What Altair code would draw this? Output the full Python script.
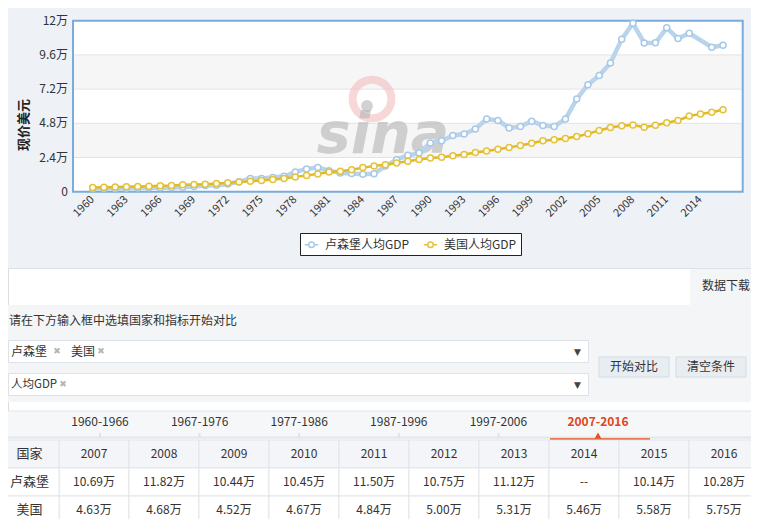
import altair as alt
import pandas as pd

FONT = "Noto Sans CJK SC"
LUX_NAME = "卢森堡人均GDP"
USA_NAME = "美国人均GDP"

# ---------------- data (values in 万美元) ----------------
years = list(range(1960, 2017))
lux = [0.22, 0.23, 0.23, 0.24, 0.26, 0.28, 0.28, 0.29, 0.31, 0.36,
       0.43, 0.45, 0.54, 0.70, 0.92, 0.92, 1.00, 1.08, 1.38, 1.60,
       1.70, 1.47, 1.32, 1.27, 1.22, 1.26, 1.80, 2.25, 2.55, 2.71,
       3.42, 3.58, 3.95, 4.05, 4.40, 5.10, 5.00, 4.47, 4.58, 4.95,
       4.65, 4.58, 5.10, 6.50, 7.51, 8.16, 9.03, 10.69, 11.82, 10.44,
       10.45, 11.50, 10.75, 11.12, None, 10.14, 10.28]
usa = [0.30, 0.31, 0.33, 0.34, 0.36, 0.39, 0.42, 0.44, 0.48, 0.51,
       0.53, 0.57, 0.62, 0.68, 0.73, 0.78, 0.85, 0.93, 1.04, 1.14,
       1.25, 1.38, 1.43, 1.54, 1.69, 1.80, 1.90, 2.01, 2.14, 2.26,
       2.36, 2.41, 2.52, 2.61, 2.75, 2.85, 2.98, 3.11, 3.24, 3.40,
       3.58, 3.65, 3.73, 3.88, 4.06, 4.30, 4.51, 4.63, 4.68, 4.52,
       4.67, 4.84, 5.00, 5.31, 5.46, 5.58, 5.75]

x_ticks = list(range(1960, 2015, 3))
y_ticks = [0, 2.4, 4.8, 7.2, 9.6, 12]
band_lo = [2.4, 7.2]
band_hi = [4.8, 9.6]

periods = ["1960-1966", "1967-1976", "1977-1986", "1987-1996", "1997-2006", "2007-2016"]
active_period = "2007-2016"
table_years = [str(y) for y in years[-10:]]
table_rows = ["国家", "卢森堡", "美国"]

# ---------------- frames ----------------
series_df = pd.DataFrame({
    "year": years + years,
    "value": lux + usa,
    "series": [LUX_NAME] * len(years) + [USA_NAME] * len(years),
})

cells = []
for i, yr in enumerate(table_years):
    lv = lux[-10:][i]
    uv = usa[-10:][i]
    cells.append({"col": yr, "row": "国家", "text": yr})
    cells.append({"col": yr, "row": "卢森堡", "text": "--" if lv is None else f"{lv:.2f}万"})
    cells.append({"col": yr, "row": "美国", "text": f"{uv:.2f}万"})
cells_df = pd.DataFrame(cells)
rows_df = pd.DataFrame({"row": table_rows})
period_df = pd.DataFrame({"p": periods})
xt_df = pd.DataFrame({"t": x_ticks})
yt_df = pd.DataFrame({"v": y_ticks})
one = pd.DataFrame({"k": [0]})

# ---------------- scales ----------------
XMIN, XMAX = 1958.25, 2017.75
xs = alt.Scale(domain=[XMIN, XMAX], range=[65, 734.7], nice=False, zero=False)
ys = alt.Scale(domain=[0, 12], range=[183.7, 12.7], nice=False, zero=False)
col_scale = alt.Scale(domain=table_years, range=[51, 751], paddingInner=0, paddingOuter=0)
row_scale = alt.Scale(domain=table_rows, range=[432, 516], paddingInner=0, paddingOuter=0)
per_scale = alt.Scale(type="point", domain=periods, range=[92, 590], padding=0)


def px_rect(x1, y1, x2, y2, **mk):
    return alt.Chart(one).mark_rect(**mk).encode(
        x=alt.value(x1 - 8), x2=alt.value(x2 - 8),
        y=alt.value(y1 - 8), y2=alt.value(y2 - 8))


def px_rule(x1, y1, x2, y2, **mk):
    return alt.Chart(one).mark_rule(**mk).encode(
        x=alt.value(x1 - 8), x2=alt.value(x2 - 8),
        y=alt.value(y1 - 8), y2=alt.value(y2 - 8))


def px_text(x, y, s, **mk):
    props = dict(font=FONT, fontSize=12, color="#333333", align="left", baseline="middle")
    props.update(mk)
    return alt.Chart(one).mark_text(text=s, **props).encode(
        x=alt.value(x - 8), y=alt.value(y - 8))


def plot_x():
    return alt.X(datum=XMIN, type="quantitative", scale=xs, axis=None)


# ---------------- chart area ----------------
bg_top = px_rect(0, 0, 770, 268, fill="#eef2f7")
bg_line = px_rule(0, 268.5, 770, 268.5, stroke="#dce2e9", strokeWidth=1)

plot_bg = alt.Chart(one).mark_rect(fill="white").encode(
    x=plot_x(), x2=alt.X2(datum=XMAX),
    y=alt.Y(datum=0, type="quantitative", scale=ys, axis=None), y2=alt.Y2(datum=12))

bands = alt.Chart(pd.DataFrame({"lo": band_lo, "hi": band_hi})).mark_rect(fill="#f6f6f6").encode(
    x=plot_x(), x2=alt.X2(datum=XMAX),
    y=alt.Y("lo:Q", scale=ys, axis=None), y2="hi:Q")

grid = alt.Chart(pd.DataFrame({"g": y_ticks[1:-1]})).mark_rule(stroke="#e3e3e3", strokeWidth=1).encode(
    x=plot_x(), x2=alt.X2(datum=XMAX),
    y=alt.Y("g:Q", scale=ys, axis=None))

frame = alt.Chart(one).mark_rect(fillOpacity=0, stroke="#79acdc", strokeWidth=2).encode(
    x=plot_x(), x2=alt.X2(datum=XMAX),
    y=alt.Y(datum=0, type="quantitative", scale=ys, axis=None), y2=alt.Y2(datum=12))

# axis labels drawn through the same scales
y_labels = alt.Chart(yt_df).transform_calculate(
    lab="datum.v == 0 ? '0' : format(datum.v, '.2~f') + '万'"
).mark_text(font=FONT, fontSize=12, color="#333333", align="right", baseline="middle").encode(
    x=alt.value(60), y=alt.Y("v:Q", scale=ys, axis=None), text="lab:N")
x_labels = alt.Chart(xt_df).mark_text(font=FONT, fontSize=11, color="#333333", align="right",
                                      baseline="middle", angle=315).encode(
    x=alt.X("t:Q", scale=xs, axis=None), y=alt.value(190), text="t:N")
y_title = px_text(24, 125, "现价美元", fontSize=13, fontWeight="bold", color="#222222",
                  align="center", angle=270)

# watermark
wm_ring = alt.Chart(one).mark_point(shape="circle", filled=False, stroke="#f2b8b8",
                                    strokeWidth=8, size=1500, opacity=0.55).encode(
    x=alt.value(372 - 8), y=alt.value(99 - 8))
wm_dot = alt.Chart(one).mark_point(shape="circle", filled=True, color="#9a9a9a",
                                   size=140, opacity=0.45).encode(
    x=alt.value(367 - 8), y=alt.value(106 - 8))
wm_text = px_text(383, 153, "sina", font="DejaVu Sans", fontSize=57, fontWeight="bold",
                  fontStyle="italic", color="#b5b5b5", align="center", baseline="alphabetic",
                  opacity=0.6)

legend = alt.Legend(title=None, orient="none", legendX=292, legendY=225, direction="horizontal",
                    fillColor="white", strokeColor="#222222", padding=4,
                    labelFont=FONT, labelFontSize=12, labelColor="#333333",
                    symbolType="M -1 0 L -0.42 0 M 0.42 0 L 1 0 M -0.42 0 A 0.42 0.42 0 1 1 0.42 0 A 0.42 0.42 0 1 1 -0.42 0 Z",
                    symbolSize=180, symbolStrokeWidth=1.5, symbolFillColor="white",
                    columnPadding=10, labelOffset=6)
color = alt.Color("series:N", scale=alt.Scale(domain=[LUX_NAME, USA_NAME],
                                               range=["#a6c9e8", "#e5c23c"]), legend=legend)

lux_line = alt.Chart(series_df).transform_filter(
    f"datum.series === '{LUX_NAME}' && isValid(datum.value)"
).mark_line(color="#b9d4eb", strokeWidth=4.5, strokeJoin="round").encode(
    x=alt.X("year:Q", scale=xs, axis=None), y=alt.Y("value:Q", scale=ys, axis=None))

lux_pts = alt.Chart(series_df).transform_filter(
    f"datum.series === '{LUX_NAME}' && isValid(datum.value)"
).mark_point(shape="circle", filled=False, fill="white", size=36, strokeWidth=1.5, opacity=1).encode(
    x=alt.X("year:Q", scale=xs, axis=None), y=alt.Y("value:Q", scale=ys, axis=None), color=color)

usa_line = alt.Chart(series_df).transform_filter(
    f"datum.series === '{USA_NAME}'"
).mark_line(color="#e2b91e", strokeWidth=2.5).encode(
    x=alt.X("year:Q", scale=xs, axis=None), y=alt.Y("value:Q", scale=ys, axis=None))

usa_pts = alt.Chart(series_df).transform_filter(
    f"datum.series === '{USA_NAME}'"
).mark_point(shape="circle", filled=False, fill="#fffef6", size=36, strokeWidth=1.5, opacity=1).encode(
    x=alt.X("year:Q", scale=xs, axis=None), y=alt.Y("value:Q", scale=ys, axis=None), color=color)

# ---------------- controls ----------------
tab_dl = px_rect(690, 269, 770, 305, fill="#f3f5f7")
dl_text = px_text(750, 285.5, "数据下载", align="right")
bg_mid = px_rect(0, 305, 770, 402, fill="#f3f5f7")
hint = px_text(9, 320.5, "请在下方输入框中选填国家和指标开始对比")
box1 = px_rect(8.5, 340.5, 588.5, 362.5, fill="white", stroke="#dde2e8", strokeWidth=1)
box2 = px_rect(8.5, 373.5, 588.5, 395.5, fill="white", stroke="#dde2e8", strokeWidth=1)
t_lux = px_text(11, 351.5, "卢森堡")
x_lux = px_text(57, 351, "✖", font="DejaVu Sans", fontSize=9, color="#b5b5b5", align="center")
t_usa = px_text(71, 351.5, "美国")
x_usa = px_text(101, 351, "✖", font="DejaVu Sans", fontSize=9, color="#b5b5b5", align="center")
t_gdp = px_text(11, 384.5, "人均GDP", fontSize=11.5)
x_gdp = px_text(63, 384, "✖", font="DejaVu Sans", fontSize=9, color="#b5b5b5", align="center")
dd1 = px_text(577.5, 351.5, "▼", font="DejaVu Sans", fontSize=9, color="#444444", align="center")
dd2 = px_text(577.5, 384.5, "▼", font="DejaVu Sans", fontSize=9, color="#444444", align="center")
btn1 = px_rect(599, 357, 669, 377, fill="#e8edf2", stroke="#d3dbe3", strokeWidth=1)
btn2 = px_rect(676, 357, 746, 377, fill="#e8edf2", stroke="#d3dbe3", strokeWidth=1)
btn1_t = px_text(634, 367, "开始对比", align="center")
btn2_t = px_text(711, 367, "清空条件", align="center")

# ---------------- period tabs ----------------
tab_bg = px_rect(0, 411, 770, 440, fill="#f5f7f9")
tab_top = px_rule(0, 411, 770, 411, stroke="#e2e6ea", strokeWidth=1)
tab_rail = px_rule(0, 437.5, 770, 437.5, stroke="#e3e7eb", strokeWidth=2)
tab_ticks = alt.Chart(period_df).transform_filter(f"datum.p !== '{active_period}'").mark_rule(
    stroke="#dfe3e8", strokeWidth=2).encode(
    x=alt.X("p:N", scale=per_scale, axis=None), y=alt.value(433 - 8), y2=alt.value(438 - 8))
tab_text = alt.Chart(period_df).transform_filter(f"datum.p !== '{active_period}'").mark_text(
    font=FONT, fontSize=12, color="#333333", baseline="middle").encode(
    x=alt.X("p:N", scale=per_scale, axis=None), y=alt.value(422 - 8), text="p:N")
tab_active = alt.Chart(period_df).transform_filter(f"datum.p === '{active_period}'").mark_text(
    font=FONT, fontSize=12, color="#e0451b", fontWeight="bold", baseline="middle").encode(
    x=alt.X("p:N", scale=per_scale, axis=None), y=alt.value(422 - 8), text="p:N")
tab_under = px_rule(550, 439.5, 650, 439.5, stroke="#e8501c", strokeWidth=2.5)
tab_tri = alt.Chart(period_df).transform_filter(f"datum.p === '{active_period}'").mark_point(
    shape="triangle-up", filled=True, color="#e8501c", size=45, opacity=1).encode(
    x=alt.X("p:N", scale=per_scale, axis=None), y=alt.value(435.5 - 8))

# ---------------- table ----------------
cell_rects = alt.Chart(cells_df).mark_rect(stroke="#e1e5ea", strokeWidth=1).encode(
    x=alt.X("col:N", scale=col_scale, axis=None),
    y=alt.Y("row:N", scale=row_scale, axis=None),
    fill=alt.condition("datum.row === '国家'", alt.value("#f3f5f8"), alt.value("white")))
cell_text = alt.Chart(cells_df).mark_text(font=FONT, fontSize=12, color="#333333",
                                          baseline="middle").encode(
    x=alt.X("col:N", scale=col_scale, axis=None, bandPosition=0.5),
    y=alt.Y("row:N", scale=row_scale, axis=None, bandPosition=0.5),
    text="text:N")
head_rects = alt.Chart(rows_df).mark_rect(stroke="#e1e5ea", strokeWidth=1).encode(
    x=alt.value(-8), x2=alt.value(51),
    y=alt.Y("row:N", scale=row_scale, axis=None),
    fill=alt.condition("datum.row === '国家'", alt.value("#f3f5f8"), alt.value("white")))
head_text = alt.Chart(rows_df).mark_text(font=FONT, fontSize=13, color="#333333",
                                         baseline="middle").encode(
    x=alt.value(29.5 - 8),
    y=alt.Y("row:N", scale=row_scale, axis=None, bandPosition=0.5),
    text="row:N")

chart = alt.layer(
    bg_top, bg_line, plot_bg, bands, grid, wm_ring, wm_dot, wm_text, frame,
    y_labels, x_labels, y_title,
    lux_line, lux_pts, usa_line, usa_pts,
    tab_dl, dl_text, bg_mid, hint, box1, box2, t_lux, x_lux, t_usa, x_usa, t_gdp, x_gdp,
    dd1, dd2, btn1, btn2, btn1_t, btn2_t,
    tab_bg, tab_top, tab_rail, tab_ticks, tab_text, tab_active, tab_under, tab_tri,
    cell_rects, cell_text, head_rects, head_text,
).resolve_scale(
    x="independent", y="independent"
).properties(
    width=743, height=511, autosize=alt.AutoSizeParams(type="none"), padding=0, background="white"
).configure_view(strokeWidth=0).configure(font=FONT)

chart.save("out.html", embed_options={"renderer": "svg", "actions": False})
